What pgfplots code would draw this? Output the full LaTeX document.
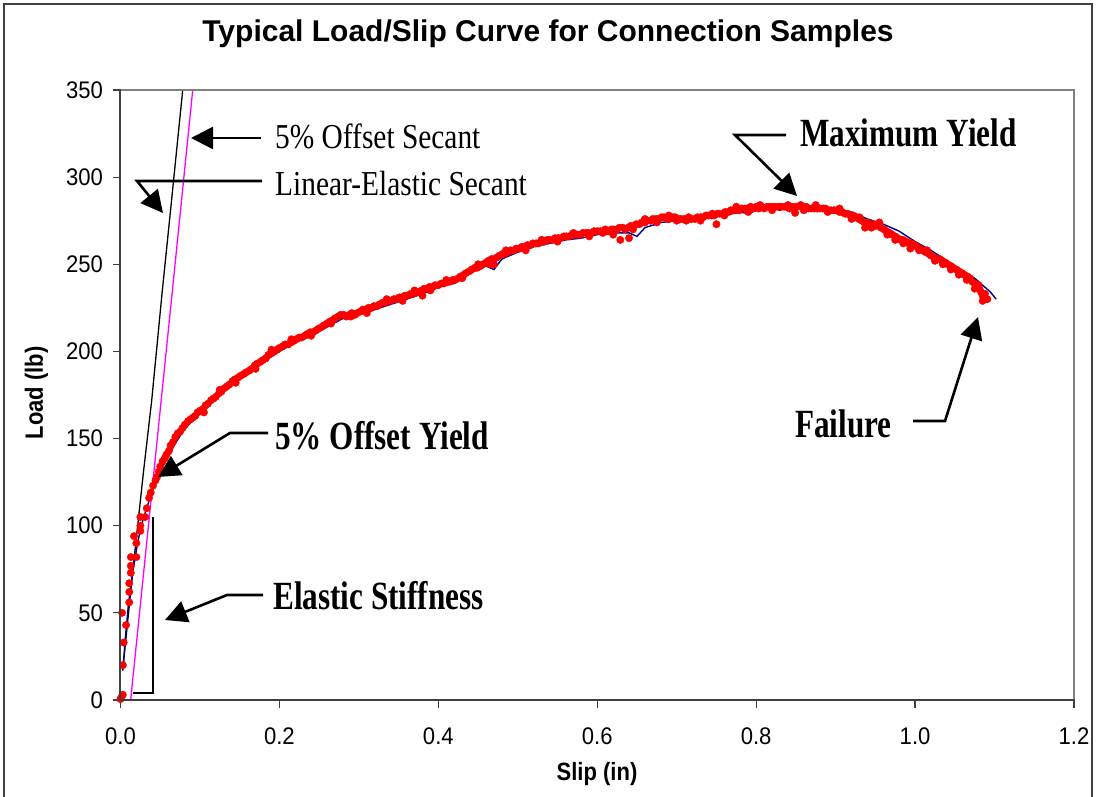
\documentclass[border=0pt]{standalone}
\usepackage{pgfplots}
\pgfplotsset{compat=1.18}
\usepackage{pgfplotstable}
\usepackage{fontspec}
\setmainfont{Liberation Serif}
\newfontfamily\arialT[FakeStretch=0.92]{Liberation Sans}
\newfontfamily\arialL[FakeStretch=0.88]{Liberation Sans}
\newfontfamily\arialB{Liberation Sans}
\newfontfamily\timesR[FakeStretch=0.84]{Liberation Serif}
\newfontfamily\timesB[FakeStretch=0.78]{Liberation Serif}
\usetikzlibrary{arrows.meta}
\definecolor{axisdark}{RGB}{64,64,64}
\definecolor{framegray}{RGB}{128,128,128}
\definecolor{navyline}{RGB}{0,0,128}
\definecolor{magline}{RGB}{255,0,255}

\pgfplotstableread{
x y
0.000 0.5
0.001 1.5
0.003 3
0.003 20
0.002 50
0.004 33
0.007 43
0.011 56
0.011 62
0.011 67
0.013 73
0.013 77
0.013 82
0.020 82
0.020 90
0.017 94
0.025 97
0.025 100
0.025 105
0.031 105
0.033 110
0.036 116
0.038 119
0.041 123
0.044 126
0.046 128
0.048 131
0.050 134
0.053 137
0.056 139
0.058 141
0.061 143
0.063 146
0.066 148
0.069 151
0.072 153
0.075 154
0.078 156
0.081 158
0.085 160
0.088 161
0.091 162
0.094 163
0.097 165
0.100 166
0.104 167
0.107 169
0.110 170
0.114 172
0.117 173
0.120 174
0.124 176
0.127 177
0.131 179
0.134 180
0.137 181
0.141 183
0.144 184
0.148 185
0.151 186
0.155 187
0.158 188
0.162 189
0.165 190
0.169 192
0.172 193
0.176 194
0.179 195
0.183 196
0.186 198
0.190 199
0.193 200
0.197 201
0.200 202
0.204 203
0.207 204
0.211 204
0.214 205
0.218 206
0.221 207
0.225 208
0.228 208
0.232 209
0.235 210
0.239 211
0.242 211
0.246 212
0.249 213
0.253 214
0.256 215
0.260 216
0.263 217
0.267 218
0.270 219
0.274 220
0.277 221
0.281 221
0.284 220
0.288 221
0.291 222
0.295 221
0.298 222
0.302 223
0.305 224
0.309 224
0.312 225
0.316 225
0.319 226
0.323 226
0.326 227
0.330 228
0.333 228
0.337 229
0.340 229
0.344 230
0.347 230
0.351 231
0.354 231
0.358 232
0.361 232
0.365 233
0.368 233
0.372 234
0.375 234
0.379 235
0.382 236
0.386 236
0.389 237
0.393 237
0.396 238
0.400 238
0.404 239
0.407 239
0.411 240
0.414 240
0.418 241
0.421 241
0.425 242
0.428 243
0.432 244
0.435 245
0.439 246
0.442 247
0.446 248
0.449 248
0.453 249
0.456 250
0.460 251
0.463 252
0.467 253
0.470 253
0.474 254
0.477 255
0.481 256
0.484 256
0.488 257
0.491 258
0.495 258
0.498 259
0.502 259
0.505 260
0.509 260
0.512 261
0.516 261
0.519 262
0.523 262
0.526 262
0.530 263
0.533 263
0.537 264
0.540 264
0.544 264
0.547 265
0.551 265
0.554 265
0.558 266
0.561 266
0.565 266
0.568 267
0.572 267
0.575 267
0.579 267
0.582 268
0.586 268
0.589 268
0.593 268
0.596 269
0.600 269
0.604 269
0.607 268
0.611 269
0.614 269
0.618 270
0.621 270
0.625 270
0.628 271
0.632 271
0.635 270
0.639 271
0.642 272
0.646 272
0.649 273
0.653 273
0.656 274
0.660 274
0.663 275
0.667 275
0.670 276
0.674 276
0.677 276
0.681 277
0.684 277
0.688 276
0.691 276
0.695 277
0.698 277
0.702 276
0.705 276
0.709 276
0.712 275
0.716 276
0.719 276
0.723 276
0.726 277
0.730 277
0.733 277
0.737 278
0.740 278
0.744 278
0.747 278
0.751 279
0.754 279
0.758 279
0.761 280
0.765 280
0.768 281
0.772 281
0.775 281
0.779 281
0.782 282
0.786 282
0.789 282
0.793 283
0.796 282
0.800 283
0.803 282
0.807 283
0.810 282
0.814 283
0.817 283
0.821 283
0.824 283
0.828 283
0.831 283
0.835 283
0.838 283
0.842 282
0.845 283
0.849 283
0.852 283
0.856 284
0.859 283
0.863 283
0.866 282
0.870 282
0.873 282
0.877 282
0.880 282
0.884 282
0.887 282
0.891 281
0.894 281
0.898 281
0.901 281
0.905 280
0.908 280
0.912 279
0.915 279
0.919 278
0.922 278
0.926 277
0.929 276
0.933 275
0.936 274
0.940 274
0.943 273
0.947 273
0.950 272
0.954 272
0.957 271
0.961 270
0.964 269
0.968 268
0.971 267
0.975 266
0.978 265
0.982 264
0.985 264
0.989 263
0.992 262
0.996 261
0.999 261
1.003 260
1.006 259
1.010 258
1.013 257
1.017 256
1.020 255
1.024 254
1.027 253
1.031 253
1.034 252
1.038 251
1.041 250
1.045 249
1.048 248
1.052 247
1.055 246
1.059 245
1.062 244
1.066 243
1.069 242
1.072 240
1.075 239
1.078 237
1.081 236
1.083 234
1.085 232
1.087 231
1.089 230
1.091 230
0.640 265
0.629 264
0.750 273
0.849 279.5
0.937 271
0.994 259
0.470 250
0.380 232
0.105 165
0.125 178
0.145 182
0.170 190
0.190 201
0.215 207
0.240 209
0.265 216
0.290 220
0.310 222
0.335 230
0.355 229
0.370 235
0.390 235
0.410 241
0.430 242
0.450 250
0.465 250
0.485 258
0.510 258
0.530 264
0.550 263
0.570 268
0.590 266
0.610 270
0.620 267
0.645 270
0.660 276
0.675 274
0.690 278
0.700 275
0.715 277
0.730 275
0.745 279
0.760 278
0.775 283
0.790 280
0.805 284
0.820 281
0.840 284
0.860 281
0.875 284
0.890 280
0.905 282
0.920 276
0.930 277
0.945 271
0.955 274
0.965 267
0.975 264
0.985 262
0.995 262
1.005 258
1.015 258
1.025 252
1.035 250
1.045 247
1.055 244
1.065 241
1.075 236
1.080 238
1.085 229
1.088 233
}\reddots

\pgfplotstableread{
x y
0.003 17
0.006 35
0.010 55
0.015 72
0.020 86
0.025 98
0.030 106
0.035 113
0.040 120
0.045 126
0.050 131
0.060 140
0.070 148
0.080 155
0.090 160
0.100 165
0.120 173
0.140 181
0.160 187
0.180 194
0.200 200
0.220 205
0.240 209
0.260 214
0.280 219
0.290 219
0.300 221
0.320 224
0.340 227
0.360 230
0.380 233
0.400 237
0.420 239
0.440 245
0.460 249
0.470 247
0.480 253
0.500 257
0.520 260
0.540 262
0.560 264
0.580 265
0.600 267
0.620 268
0.640 268
0.650 266
0.660 271
0.680 274
0.700 275
0.710 274
0.720 275
0.740 277
0.760 278
0.780 280
0.790 279
0.800 281
0.820 282
0.830 281
0.840 283
0.860 283
0.880 283
0.900 282
0.920 280
0.940 276
0.960 273
0.980 269
1.000 263
1.020 258
1.040 252
1.060 246
1.075 242
1.085 238
1.095 234
1.102 230
}\blueline

\pgfplotstableread{
x y
0.0028 17
0.0150 72
0.0287 130
0.0393 172
0.0520 232
0.0650 290
0.0783 350
}\blackline

\pgfplotstableread{
x y
0.0128 0
0.0406 124.5
0.0660 238
0.0909 350
}\magline

\begin{document}
\begin{tikzpicture}[x=1pt,y=1pt]
\useasboundingbox (0,0) rectangle (1096,797);
\begin{axis}[
  at={(120.5pt,97pt)}, anchor=south west,
  scale only axis, width=953.5pt, height=610pt,
  xmin=0, xmax=1.2, ymin=0, ymax=350,
  xtick={0,0.2,0.4,0.6,0.8,1.0,1.2},
  ytick={0,50,100,150,200,250,300,350},
  xticklabels={0.0,0.2,0.4,0.6,0.8,1.0,1.2},
  xtick pos=bottom, ytick pos=left,
  tick align=outside, major tick length=8pt,
  tick style={line width=1.2pt, color=axisdark},
  axis line style={draw=none},
  /pgf/number format/assume math mode=true,
  tick label style={font=\arialT\fontsize{24}{26}\selectfont},
  yticklabel style={xshift=-6pt},
  xticklabel style={yshift=-16pt},
  clip=false,
]
\addplot[magline, line width=1.3pt] table {\magline};
\addplot[black, line width=1.3pt] table {\blackline};
\addplot[navyline, line width=1.4pt] table {\blueline};
\addplot[only marks, mark=*, mark size=3.7pt, mark options={draw=red, fill=red}] table {\reddots};
\end{axis}
\begin{scope}[yshift=797pt, x=1pt, y=-1pt]
  % frame
  \draw[framegray, line width=1.6pt] (120,90) -- (1074,90) -- (1074,700);
  \draw[axisdark, line width=1.8pt] (120,89) -- (120,700) -- (1075,700);
  % outer border
  \draw[axisdark, line width=1.5pt] (4,800) -- (4,4) -- (1092,4) -- (1092,800);
  % title and labels
  \node[anchor=base, inner sep=0] at (548,42) {\arialB\bfseries\fontsize{30}{32}\selectfont Typical Load/Slip Curve for Connection Samples};
  \node[anchor=base, inner sep=0] at (597,781) {\arialL\bfseries\fontsize{25}{27}\selectfont Slip (in)};
  \node[anchor=base, inner sep=0, rotate=90] at (43,393) {\arialL\bfseries\fontsize{25}{27}\selectfont Load (lb)};
  % annotations
  \node[anchor=base west, inner sep=0] at (275,149) {\timesR\fontsize{35}{37}\selectfont 5\% Offset Secant};
  \node[anchor=base west, inner sep=0] at (275,196) {\timesR\fontsize{35}{37}\selectfont Linear-Elastic Secant};
  \node[anchor=base west, inner sep=0] at (275,450) {\timesB\bfseries\fontsize{40}{42}\selectfont 5\% Offset Yield};
  \node[anchor=base west, inner sep=0] at (273,610) {\timesB\bfseries\fontsize{40}{42}\selectfont Elastic Stiffness};
  \node[anchor=base west, inner sep=0] at (800,147) {\timesB\bfseries\fontsize{40}{42}\selectfont Maximum Yield};
  \node[anchor=base west, inner sep=0] at (795,438) {\timesB\bfseries\fontsize{40}{42}\selectfont Failure};
  \begin{scope}[line width=2.6pt, -{Triangle[length=22pt,width=22pt]}]
    \draw (261,138) -- (191,138);
    \draw (262,181) -- (137,181) -- (163,213);
    \draw (268,433) -- (230,433) -- (158,477);
    \draw (263,595) -- (227,595) -- (165,620);
    \draw (786,135) -- (735,135) -- (797,196);
    \draw (913,421) -- (945,421) -- (978,317);
  \end{scope}
  \draw[line width=2pt] (153,517) -- (153,693) -- (133,693);
\end{scope}
\end{tikzpicture}
\end{document}
